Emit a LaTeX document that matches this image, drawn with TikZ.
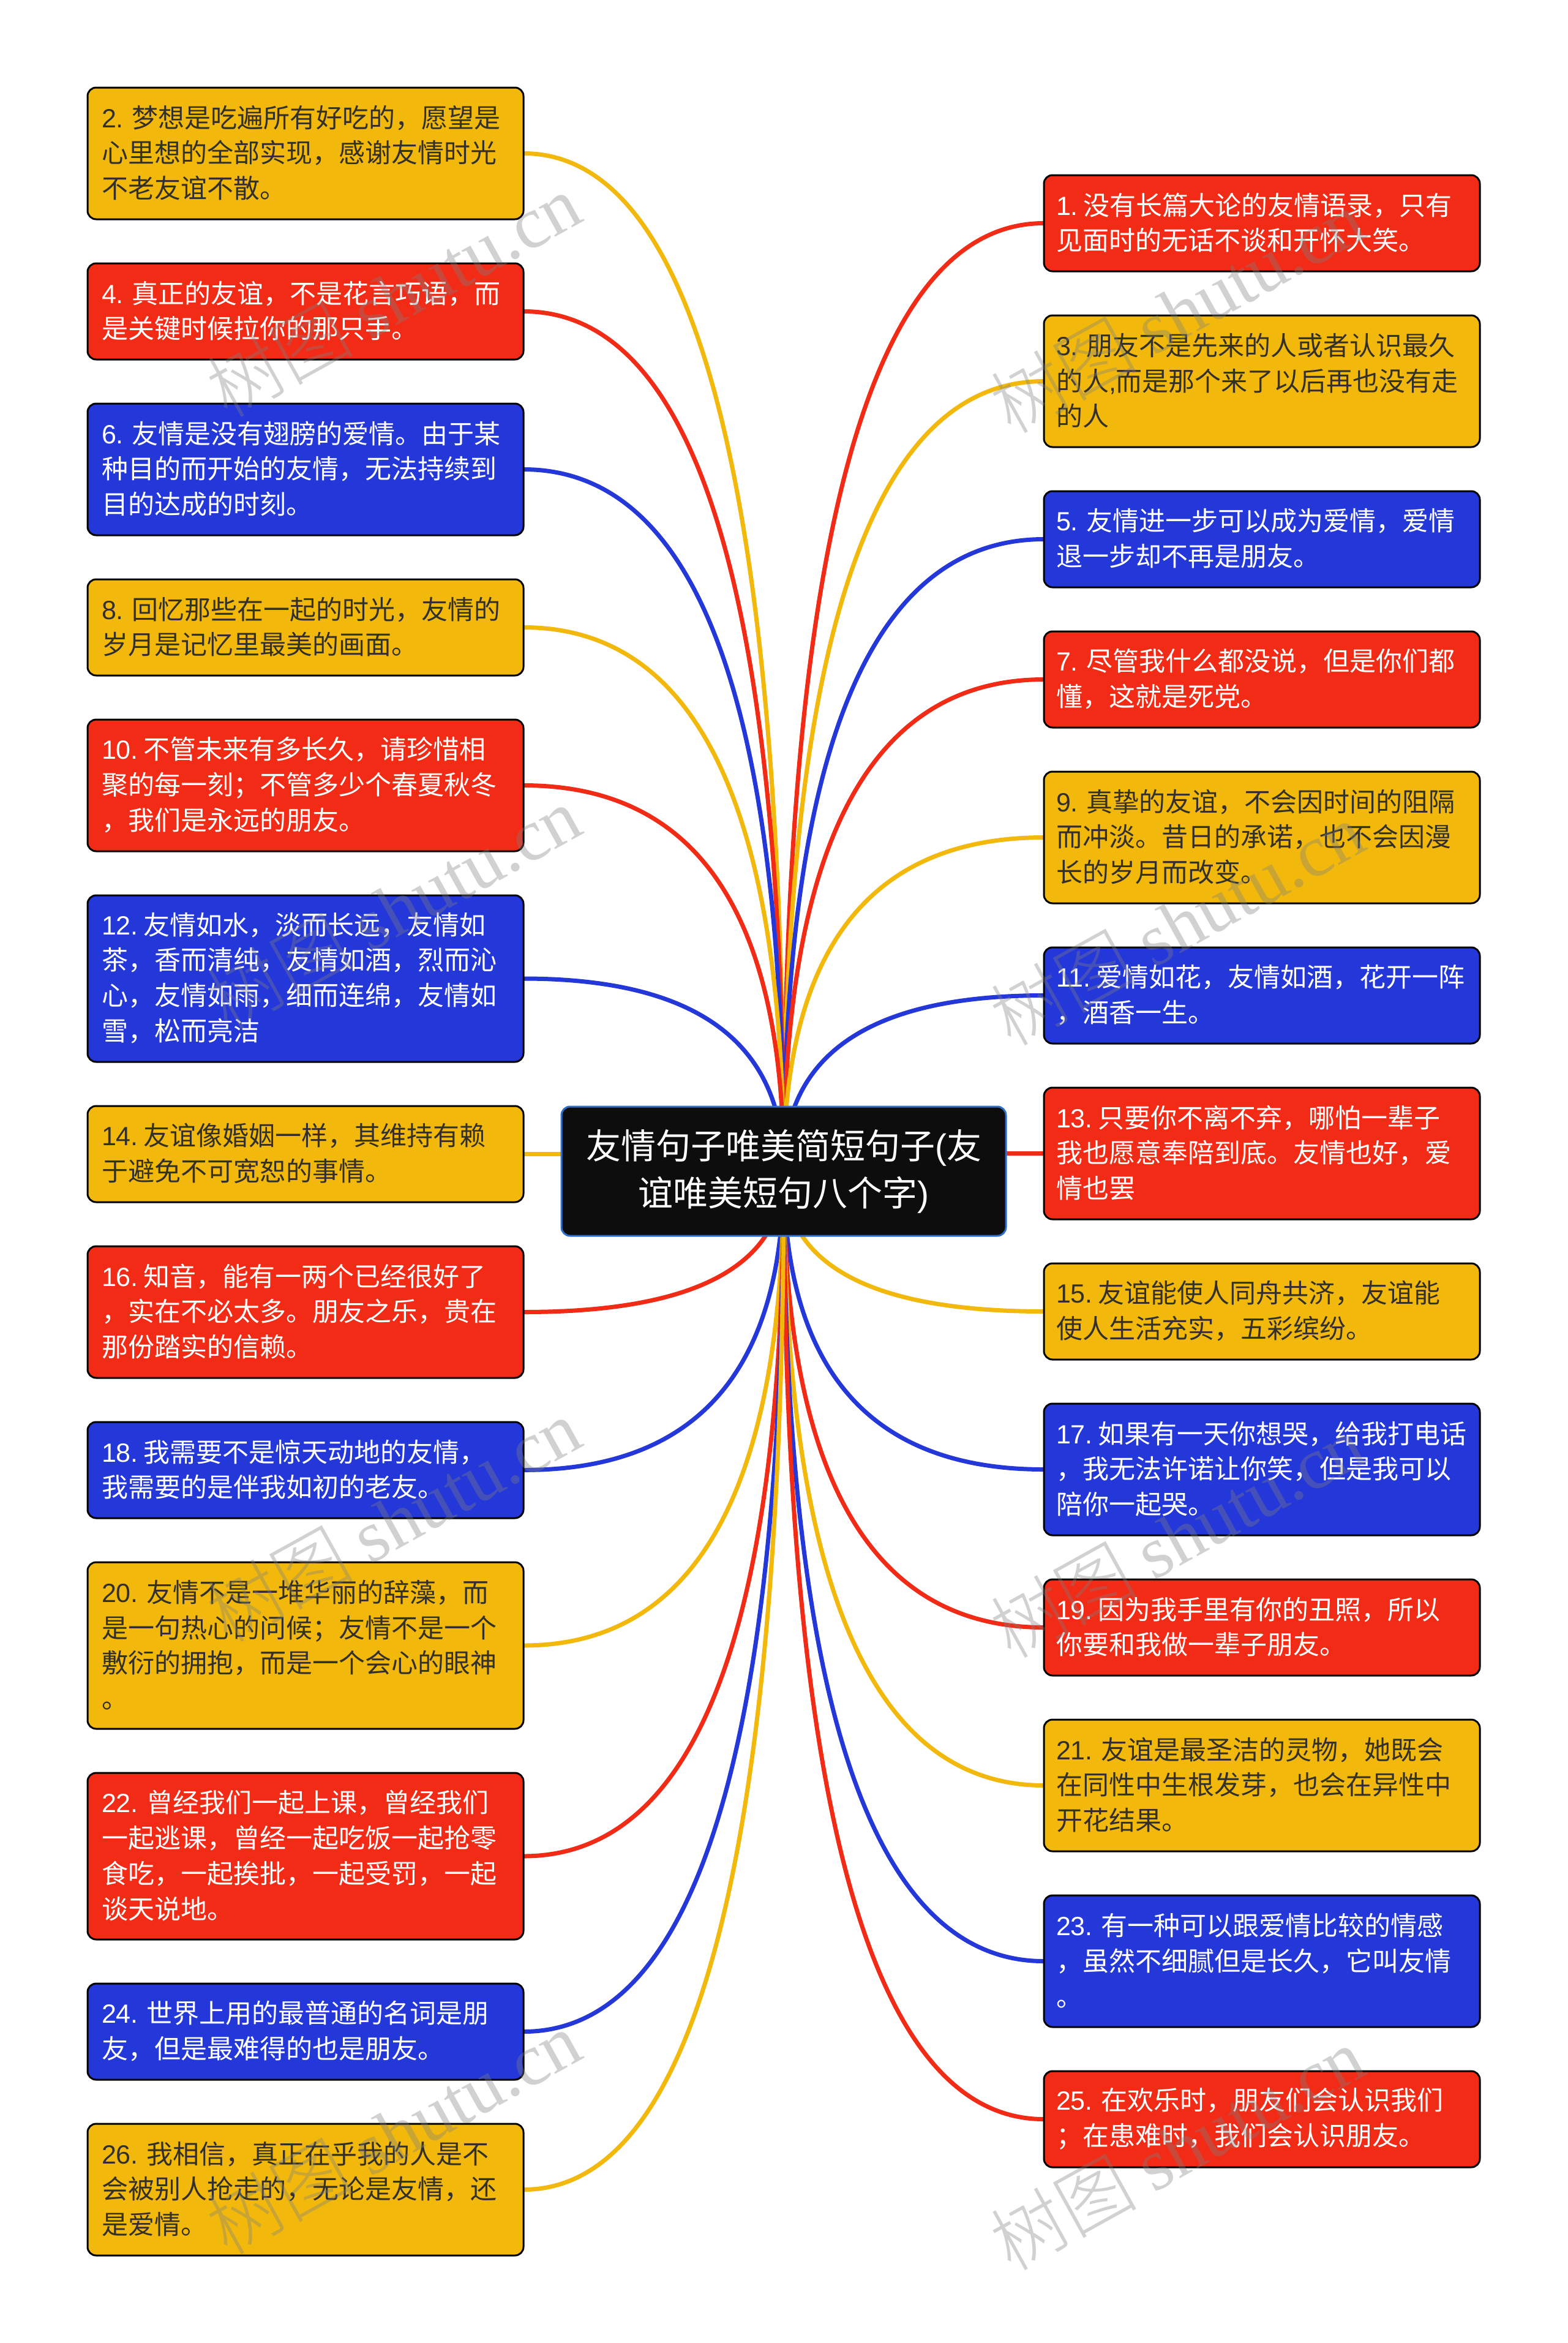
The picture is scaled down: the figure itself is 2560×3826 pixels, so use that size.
\documentclass[tikz,border=0pt]{standalone}
\usepackage{fontspec}
\setmainfont{Noto Sans CJK SC}
\newfontfamily\lat{Liberation Sans}
\newfontfamily\wmlat{Liberation Serif}
\newfontfamily\wmcjk{Noto Sans CJK SC Light}
\usetikzlibrary{calc}
\definecolor{yy}{HTML}{F2B90C}
\definecolor{rr}{HTML}{F22B16}
\definecolor{bb}{HTML}{2438D9}
\definecolor{dk}{HTML}{33302A}
\definecolor{ctrfill}{HTML}{0D0D0D}
\definecolor{ctredge}{HTML}{2F6FC8}
\pgfdeclarelayer{bg}
\pgfsetlayers{bg,main}
\tikzset{
  topic/.style={draw=black,line width=3pt,rounded corners=14pt,anchor=north west,
    minimum width=712pt,text width=666pt,inner xsep=23pt,inner ysep=0pt,outer sep=0pt,align=left,
    font=\fontsize{43}{57.7}\selectfont},
  ty/.style={topic,fill=yy,text=dk},
  tr/.style={topic,fill=rr,text=white},
  tb/.style={topic,fill=bb,text=white},
  conn/.style={line width=7pt},
  wm/.style={text=black!50,opacity=.36,rotate=29,font=\fontsize{120}{120}\selectfont},
}
\newcommand{\nm}[1]{{\lat #1\hspace{14pt}}}
\newcommand{\nmo}[1]{{\lat #1\hspace{9pt}}}
\newcommand{\tbox}[7]{\node[#1,minimum height=#5pt] (#2) at (#3,-#4) {\raisebox{2pt}{\vphantom{Ag}}#6\vspace{2pt}};}
\newcommand{\rbox}[7]{\node[#1,minimum height=#5pt,inner xsep=20pt,text width=672pt] (#2) at (#3,-#4) {\raisebox{2pt}{\vphantom{Ag}}#6\vspace{2pt}};}
\newcommand{\conn}[2]{\begin{pgfonlayer}{bg}\draw[conn,#2] (ctr.center) .. controls ($(ctr.center)!.6667!(ctr.center |- #1.east)$) and ($(#1.east)!.6667!(ctr.center |- #1.east)$) .. (#1.east);\end{pgfonlayer}}
\newcommand{\connr}[2]{\begin{pgfonlayer}{bg}\draw[conn,#2] (ctr.center) .. controls ($(ctr.center)!.6667!(ctr.center |- #1.west)$) and ($(#1.west)!.6667!(ctr.center |- #1.west)$) .. (#1.west);\end{pgfonlayer}}
\begin{document}
\begin{tikzpicture}[x=1pt,y=1pt]
\begin{pgfonlayer}{bg}
\fill[white] (0,0) rectangle (2560,-3826);
\end{pgfonlayer}
\useasboundingbox (0,0) rectangle (2560,-3826);
% left column
\tbox{ty}{n2}{143}{143}{215}{\nm{2.}梦想是吃遍所有好吃的，愿望是\\心里想的全部实现，感谢友情时光\\不老友谊不散。}{}
\tbox{tr}{n4}{143}{430}{157}{\nm{4.}真正的友谊，不是花言巧语，而\\是关键时候拉你的那只手。}{}
\tbox{tb}{n6}{143}{659}{215}{\nm{6.}友情是没有翅膀的爱情。由于某\\种目的而开始的友情，无法持续到\\目的达成的时刻。}{}
\tbox{ty}{n8}{143}{946}{157}{\nm{8.}回忆那些在一起的时光，友情的\\岁月是记忆里最美的画面。}{}
\tbox{tr}{n10}{143}{1175}{215}{\nmo{10.}不管未来有多长久，请珍惜相\\聚的每一刻；不管多少个春夏秋冬\\，我们是永远的朋友。}{}
\tbox{tb}{n12}{143}{1462}{272}{\nmo{12.}友情如水，淡而长远，友情如\\茶，香而清纯，友情如酒，烈而沁\\心，友情如雨，细而连绵，友情如\\雪，松而亮洁}{}
\tbox{ty}{n14}{143}{1806}{157}{\nmo{14.}友谊像婚姻一样，其维持有赖\\于避免不可宽恕的事情。}{}
\tbox{tr}{n16}{143}{2035}{215}{\nmo{16.}知音，能有一两个已经很好了\\，实在不必太多。朋友之乐，贵在\\那份踏实的信赖。}{}
\tbox{tb}{n18}{143}{2322}{157}{\nmo{18.}我需要不是惊天动地的友情，\\我需要的是伴我如初的老友。}{}
\tbox{ty}{n20}{143}{2551}{272}{\nm{20.}友情不是一堆华丽的辞藻，而\\是一句热心的问候；友情不是一个\\敷衍的拥抱，而是一个会心的眼神\\。}{}
\tbox{tr}{n22}{143}{2895}{272}{\nm{22.}曾经我们一起上课，曾经我们\\一起逃课，曾经一起吃饭一起抢零\\食吃，一起挨批，一起受罚，一起\\谈天说地。}{}
\tbox{tb}{n24}{143}{3239}{157}{\nm{24.}世界上用的最普通的名词是朋\\友，但是最难得的也是朋友。}{}
\tbox{ty}{n26}{143}{3468}{215}{\nm{26.}我相信，真正在乎我的人是不\\会被别人抢走的，无论是友情，还\\是爱情。}{}
% right column
\rbox{tr}{n1}{1705}{286}{157}{\nmo{1.}没有长篇大论的友情语录，只有\\见面时的无话不谈和开怀大笑。}{}
\rbox{ty}{n3}{1705}{515}{215}{\nm{3.}朋友不是先来的人或者认识最久\\的人{\lat ,}而是那个来了以后再也没有走\\的人}{}
\rbox{tb}{n5}{1705}{802}{157}{\nm{5.}友情进一步可以成为爱情，爱情\\退一步却不再是朋友。}{}
\rbox{tr}{n7}{1705}{1031}{157}{\nm{7.}尽管我什么都没说，但是你们都\\懂，这就是死党。}{}
\rbox{ty}{n9}{1705}{1260}{215}{\nm{9.}真挚的友谊，不会因时间的阻隔\\而冲淡。昔日的承诺，也不会因漫\\长的岁月而改变。}{}
\rbox{tb}{n11}{1705}{1547}{157}{\nmo{11.}爱情如花，友情如酒，花开一阵\\，酒香一生。}{}
\rbox{tr}{n13}{1705}{1776}{215}{\nmo{13.}只要你不离不弃，哪怕一辈子\\我也愿意奉陪到底。友情也好，爱\\情也罢}{}
\rbox{ty}{n15}{1705}{2063}{157}{\nmo{15.}友谊能使人同舟共济，友谊能\\使人生活充实，五彩缤纷。}{}
\rbox{tb}{n17}{1705}{2292}{215}{\nmo{17.}如果有一天你想哭，给我打电话\\，我无法许诺让你笑，但是我可以\\陪你一起哭。}{}
\rbox{tr}{n19}{1705}{2579}{157}{\nmo{19.}因为我手里有你的丑照，所以\\你要和我做一辈子朋友。}{}
\rbox{ty}{n21}{1705}{2808}{215}{\nm{21.}友谊是最圣洁的灵物，她既会\\在同性中生根发芽，也会在异性中\\开花结果。}{}
\rbox{tb}{n23}{1705}{3095}{215}{\nm{23.}有一种可以跟爱情比较的情感\\，虽然不细腻但是长久，它叫友情\\。}{}
\rbox{tr}{n25}{1705}{3382}{157}{\nm{25.}在欢乐时，朋友们会认识我们\\；在患难时，我们会认识朋友。}{}
% centre
\node[draw=ctredge,fill=ctrfill,line width=3pt,rounded corners=14pt,text=white,
  minimum width=726pt,minimum height=211pt,align=center,outer sep=0pt,inner sep=0pt,
  font=\fontsize{57}{77}\selectfont] (ctr) at (1280,-1912.5)
  {友情句子唯美简短句子{\lat (}友\\谊唯美短句八个字{\lat )}};
% connectors
\connr{n1}{rr}\conn{n2}{yy}\connr{n3}{yy}\conn{n4}{rr}\connr{n5}{bb}\conn{n6}{bb}\connr{n7}{rr}\conn{n8}{yy}
\connr{n9}{yy}\conn{n10}{rr}\connr{n11}{bb}\conn{n12}{bb}\connr{n13}{rr}\conn{n14}{yy}\connr{n15}{yy}\conn{n16}{rr}
\connr{n17}{bb}\conn{n18}{bb}\connr{n19}{rr}\conn{n20}{yy}\connr{n21}{yy}\conn{n22}{rr}\connr{n23}{bb}\conn{n24}{bb}
\connr{n25}{rr}\conn{n26}{yy}
% watermarks
\foreach \i/\xx/\yy in {a/642/482,b/642/1482,c/642/2482,d/642/3482,e/1922/508,f/1922/1508,g/1922/2508,h/1922/3508}{
  \node[wm] (wm\i) at (\xx,-\yy) {{\wmcjk 树图} {\wmlat shutu.cn}};
}
\end{tikzpicture}
\end{document}
